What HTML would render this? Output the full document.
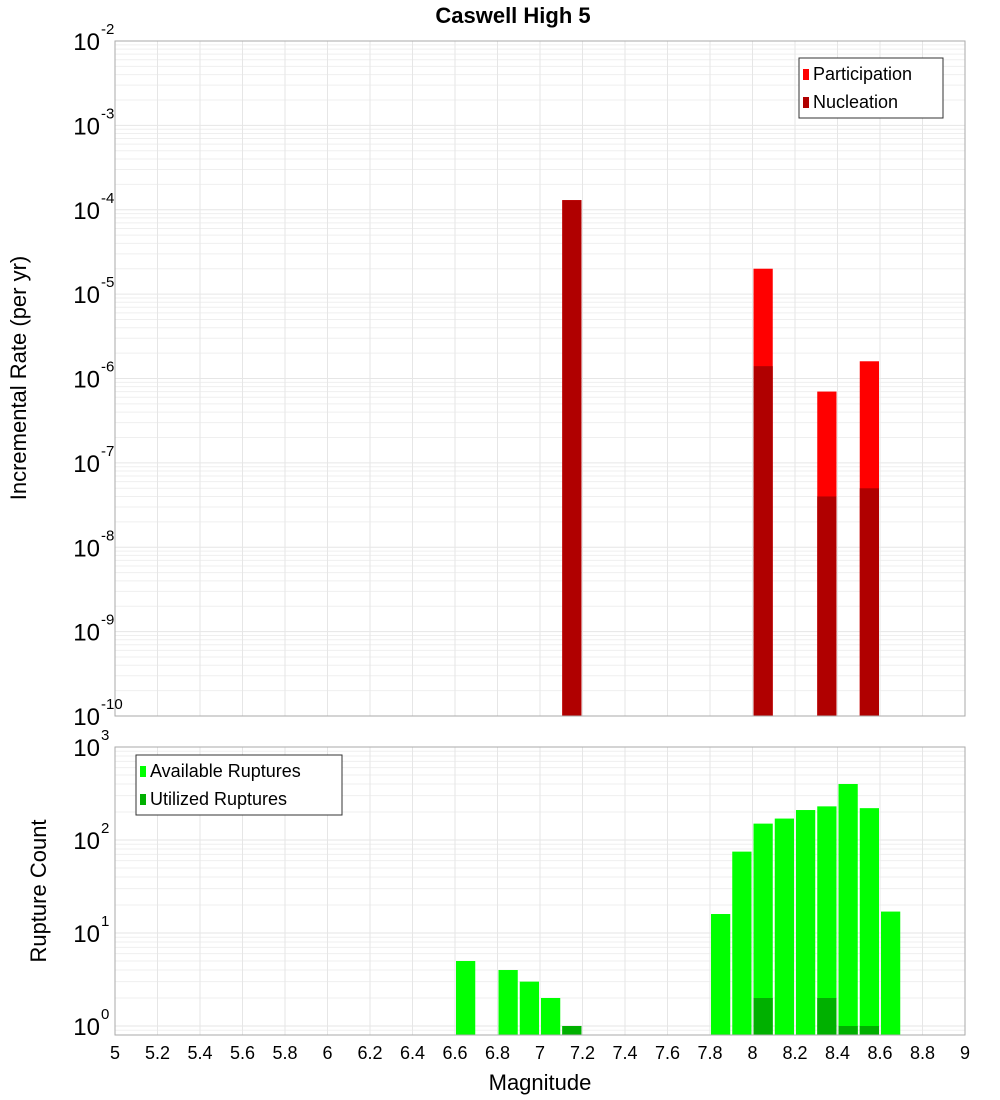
<!DOCTYPE html>
<html><head><meta charset="utf-8"><style>
body{margin:0;background:#fff;}
svg{display:block;font-family:"Liberation Sans","DejaVu Sans",sans-serif;}
</style></head><body>
<svg id="c" width="1000" height="1100" xmlns="http://www.w3.org/2000/svg"></svg>
<script>
const topMags=[7.15,8.05,8.35,8.55];
const partVals=[1.3e-4,2.0e-5,7.0e-7,1.6e-6];
const nucVals=[1.3e-4,1.4e-6,4.0e-8,5.0e-8];
const botMags=[6.65,6.85,6.95,7.05,7.15,7.85,7.95,8.05,8.15,8.25,8.35,8.45,8.55,8.65];
const availVals=[5,4,3,2,1,16,75,150,170,210,230,400,220,17];
const utilVals=[0,0,0,0,1,0,0,2,0,0,2,1,1,0];
const xTicks=[5,5.2,5.4,5.6,5.8,6,6.2,6.4,6.6,6.8,7,7.2,7.4,7.6,7.8,8,8.2,8.4,8.6,8.8,9];
const topExps=[-2,-3,-4,-5,-6,-7,-8,-9,-10];
const botExps=[3,2,1,0];

const S=document.getElementById('c');const NS='http://www.w3.org/2000/svg';
function mk(t,a,p){const e=document.createElementNS(NS,t);for(const k in a)e.setAttribute(k,a[k]);(p||S).appendChild(e);return e;}
const L=115,R=965;
const X=m=>L+(m-5)*(R-L)/4;
const T0=41,T1=716,Yt=v=>T0+(-2-Math.log10(v))*(T1-T0)/8;
const B0=747,B1=1035,Yb=v=>1026-Math.log10(v)*93;

function panel(top,bot,Y,lo,hi,name){
  const g=mk('g',{});
  
  
  for(let e=lo;e<hi;e++)for(let k=1;k<10;k++){const y=Y(k*Math.pow(10,e));if(y>=top&&y<=bot)mk('line',{x1:L,x2:R,y1:y,y2:y,stroke:k==1?'#e6e6e6':'#efefef','stroke-width':1},g);}
  xTicks.forEach(t=>{mk('line',{x1:X(t),x2:X(t),y1:top,y2:bot,stroke:'#e6e6e6'},g);});
}
panel(T0,T1,Yt,-10,-2,'top');
panel(B0,B1,Yb,-1,3,'bottom');

function bar(m,v,Y,base,col,name){
  const y=Y(v);const r=mk('rect',{x:X(m-0.05)+1,y:y,width:(R-L)/40-2,height:base-y,fill:col});
  
  
}
topMags.forEach((m,i)=>bar(m,partVals[i],Yt,T1,'#ff0000','participation-bar'));
topMags.forEach((m,i)=>bar(m,nucVals[i],Yt,T1,'#b00000','nucleation-bar'));
botMags.forEach((m,i)=>bar(m,availVals[i],Yb,B1,'#00ff00','available-bar'));
botMags.forEach((m,i)=>{if(utilVals[i]>0)bar(m,utilVals[i],Yb,B1,'#00b000','utilized-bar');});

mk('rect',{x:L,y:T0,width:R-L,height:T1-T0,fill:'none',stroke:'#aaa'});
mk('rect',{x:L,y:B0,width:R-L,height:B1-B0,fill:'none',stroke:'#aaa'});

function ylab(e,y,name){
  const t=mk('text',{x:100,y:y+9,'text-anchor':'end','font-size':24,fill:'#000'});t.textContent='10';
  
  
  const s=mk('text',{x:101,y:y-7,'font-size':15,fill:'#000'});s.textContent=String(e);
}
topExps.forEach(e=>ylab(e,Yt(Math.pow(10,e)),'y-tick-top'));
botExps.forEach(e=>ylab(e,Yb(Math.pow(10,e)),'y-tick-bottom'));
xTicks.forEach(t=>{const e=mk('text',{x:X(t),y:1059,'text-anchor':'middle','font-size':18,fill:'#000'});e.textContent=String(t);
  
  });

function legend(x,y,w,items,name){
  const g=mk('g',{});
  
  
  mk('rect',{x:x,y:y,width:w,height:60,fill:'#fff',stroke:'#333'},g);
  items.forEach((it,i)=>{mk('rect',{x:x+4,y:y+11+i*28,width:6,height:11,fill:it[1]},g);
    const t=mk('text',{x:x+14,y:y+22+i*28,'font-size':18,fill:'#000'},g);t.textContent=it[0];});
}
legend(799,58,144,[['Participation','#ff0000'],['Nucleation','#b00000']],'top-legend');
legend(136,755,206,[['Available Ruptures','#00ff00'],['Utilized Ruptures','#00b000']],'bottom-legend');

let t=mk('text',{x:513,y:23,'text-anchor':'middle','font-size':22,'font-weight':'bold'});t.textContent='Caswell High 5';

t=mk('text',{x:540,y:1090,'text-anchor':'middle','font-size':22});t.textContent='Magnitude';

t=mk('text',{x:0,y:0,'text-anchor':'middle','font-size':22,transform:'translate(26,378) rotate(-90)'});t.textContent='Incremental Rate (per yr)';

t=mk('text',{x:0,y:0,'text-anchor':'middle','font-size':22,transform:'translate(46,891) rotate(-90)'});t.textContent='Rupture Count';

</script>
</body></html>
